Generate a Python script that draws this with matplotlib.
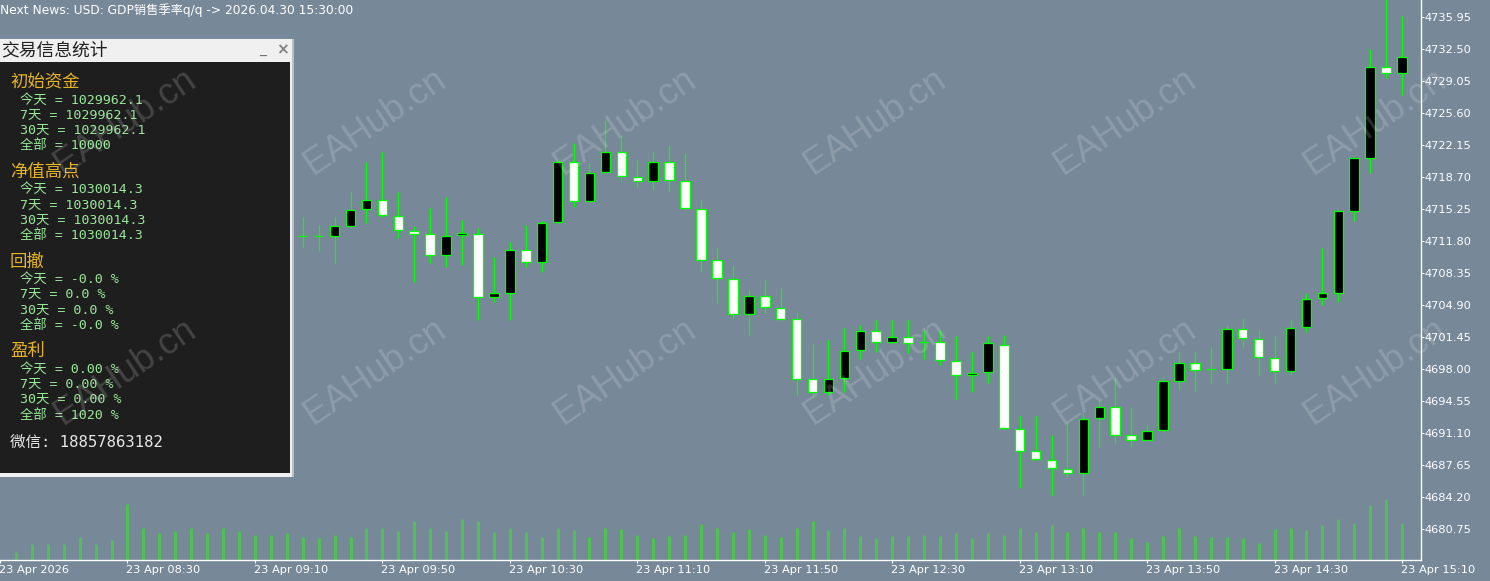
import numpy as np
import matplotlib.pyplot as plt
import matplotlib.transforms as mtransforms
from matplotlib.patches import Rectangle

# Données (M5, 23 Apr 2026)
tick_labels = ['23 Apr 2026', '23 Apr 08:30', '23 Apr 09:10', '23 Apr 09:50', '23 Apr 10:30',
               '23 Apr 11:10', '23 Apr 11:50', '23 Apr 12:30', '23 Apr 13:10', '23 Apr 13:50',
               '23 Apr 14:30', '23 Apr 15:10']
price_ticks = [4680.75, 4684.20, 4687.65, 4691.10, 4694.55, 4698.00, 4701.45, 4704.90, 4708.35,
               4711.80, 4715.25, 4718.70, 4722.15, 4725.60, 4729.05, 4732.50, 4735.95]

opens = [4712.35, 4712.30, 4712.30, 4713.45, 4715.20, 4716.20, 4714.50, 4712.90, 4712.55, 4710.30,
         4712.45, 4712.60, 4705.80, 4706.20, 4710.80, 4709.55, 4713.85, 4720.35, 4716.15, 4719.20,
         4721.35, 4718.70, 4718.25, 4720.35, 4718.30, 4715.25, 4709.75, 4707.70, 4703.90, 4705.85,
         4704.55, 4703.35, 4696.90, 4695.50, 4697.05, 4700.05, 4702.10, 4700.90, 4701.45, 4700.90,
         4700.95, 4698.90, 4697.35, 4697.65, 4700.60, 4691.50, 4689.10, 4688.20, 4687.25, 4686.80,
         4692.75, 4693.95, 4690.85, 4690.35, 4691.40, 4696.70, 4698.60, 4697.95, 4698.00, 4702.30,
         4701.25, 4699.20, 4697.80, 4702.55, 4705.60, 4706.20, 4715.05, 4720.75, 4730.60, 4729.95]
highs = [4714.40, 4713.50, 4714.40, 4717.10, 4720.35, 4721.40, 4717.10, 4713.40, 4715.35, 4716.55,
         4714.05, 4713.20, 4710.10, 4711.70, 4713.50, 4713.90, 4720.55, 4722.35, 4720.20, 4724.85,
         4723.20, 4720.55, 4721.40, 4722.15, 4721.25, 4716.20, 4711.00, 4709.20, 4706.50, 4707.60,
         4706.70, 4704.15, 4700.70, 4701.10, 4702.40, 4702.75, 4703.30, 4703.30, 4703.30, 4702.20,
         4702.20, 4701.55, 4699.85, 4701.50, 4701.65, 4692.95, 4692.95, 4690.90, 4692.30, 4693.20,
         4694.65, 4697.15, 4693.75, 4691.95, 4697.15, 4699.85, 4699.85, 4700.40, 4702.75, 4703.45,
         4702.20, 4701.55, 4703.30, 4706.15, 4711.00, 4715.15, 4720.90, 4732.55, 4738.50, 4736.05]
lows = [4711.05, 4710.65, 4709.40, 4713.35, 4713.70, 4714.40, 4712.10, 4707.40, 4709.40, 4709.00,
        4709.20, 4703.30, 4705.25, 4703.30, 4709.00, 4708.50, 4713.75, 4715.50, 4716.05, 4719.10,
        4718.20, 4717.50, 4717.30, 4717.10, 4715.15, 4708.50, 4705.10, 4703.35, 4701.65, 4704.05,
        4703.30, 4695.10, 4694.85, 4695.20, 4695.55, 4699.05, 4699.85, 4700.75, 4699.70, 4699.05,
        4698.45, 4694.75, 4695.55, 4696.45, 4691.55, 4685.20, 4688.15, 4684.40, 4686.40, 4684.40,
        4689.60, 4690.00, 4689.60, 4690.25, 4691.30, 4695.75, 4695.55, 4696.50, 4696.45, 4700.40,
        4697.35, 4696.50, 4697.35, 4702.00, 4704.90, 4705.25, 4713.90, 4719.10, 4729.35, 4727.55]
closes = [4712.35, 4712.30, 4713.40, 4715.15, 4716.20, 4714.60, 4713.00, 4712.60, 4710.30, 4712.35,
          4712.65, 4705.80, 4706.15, 4710.80, 4709.55, 4713.70, 4720.35, 4716.15, 4719.15, 4721.35,
          4718.80, 4718.25, 4720.35, 4718.35, 4715.30, 4709.80, 4707.80, 4703.90, 4705.85, 4704.65,
          4703.40, 4696.90, 4695.55, 4696.95, 4699.95, 4702.10, 4700.95, 4701.45, 4700.85, 4700.95,
          4698.95, 4697.35, 4697.60, 4700.75, 4691.60, 4689.15, 4688.25, 4687.35, 4686.75, 4692.60,
          4693.95, 4690.90, 4690.35, 4691.30, 4696.65, 4698.60, 4697.90, 4697.95, 4702.30, 4701.30,
          4699.30, 4697.80, 4702.45, 4705.50, 4706.15, 4715.00, 4720.70, 4730.60, 4729.95, 4731.60]
volumes = [83, 160, 160, 157, 233, 160, 200, 560, 317, 267, 293, 317, 267, 323, 290, 250, 250, 267,
           233, 217, 250, 233, 317, 323, 293, 393, 323, 290, 407, 393, 283, 323, 283, 233, 323, 300,
           233, 323, 307, 250, 217, 240, 250, 360, 323, 283,
           307, 250, 233, 323, 393, 300, 323, 243, 217, 240, 240, 250, 240, 267, 217, 267, 250, 323,
           283, 350, 283, 323, 283, 283, 217, 183, 240, 323, 240, 233, 233, 217, 167, 307, 323, 300,
           350, 407, 367, 550, 607, 367]

# Texte du panneau
panel_sections = [
    ('初始资金', ['今天 = 1029962.1', '7天 = 1029962.1', '30天 = 1029962.1', '全部 = 10000']),
    ('净值高点', ['今天 = 1030014.3', '7天 = 1030014.3', '30天 = 1030014.3', '全部 = 1030014.3']),
    ('回撤', ['今天 = -0.0 %', '7天 = 0.0 %', '30天 = 0.0 %', '全部 = -0.0 %']),
    ('盈利', ['今天 = 0.00 %', '7天 = 0.00 %', '30天 = 0.00 %', '全部 = 1020 %']),
]

W, H = 1490, 581
BG = '#778899'
LIME = '#00ff00'
CJK = ['DejaVu Sans', 'Noto Sans CJK SC']
MONO = ['DejaVu Sans Mono', 'Noto Sans CJK SC']

fig = plt.figure(figsize=(W / 100, H / 100), dpi=100, facecolor=BG)
ax = fig.add_axes([0, 21 / H, 1421 / W, 560 / H])
ax.patch.set_visible(False)

# Volumes (axe secondaire derrière les bougies)
vx = np.arange(-7, -7 + len(volumes))
axv = ax.twinx()
axv.vlines(vx, 0, volumes, color='#4fc053', lw=2.2)
axv.set_ylim(0, 5600)
axv.set_yticks([])
for s in axv.spines.values():
    s.set_visible(False)
axv.set_zorder(ax.get_zorder() - 1)

# Bougies
cx = np.arange(11, 11 + len(opens))
o = np.array(opens)
c = np.array(closes)
ax.vlines(cx, lows, highs, color=LIME, lw=0.9, zorder=2)
body_col = np.where(c >= o, 'black', 'white')
ax.bar(cx, np.abs(c - o), bottom=np.minimum(o, c), width=0.6, color=body_col,
       edgecolor=LIME, linewidth=0.9, zorder=3)

ax.set_xlim(-7.625, 81.19)
ax.set_ylim(4677.40, 4737.78)

ax.set_xticks(np.arange(-8, 81, 8))
ax.set_xticklabels(tick_labels, ha='left')
ax.set_yticks(price_ticks)
ax.set_yticklabels([f'{p:.2f}' for p in price_ticks])
ax.yaxis.tick_right()
ax.tick_params(axis='both', colors='white', labelsize=8.2, length=2.2, width=0.8)
ax.tick_params(axis='y', pad=0.6)
ax.tick_params(axis='x', pad=1.5)
shift = mtransforms.ScaledTranslation(-1 / 100, 0, fig.dpi_scale_trans)
for lab in ax.get_xticklabels():
    lab.set_transform(lab.get_transform() + shift)
for side in ['top', 'left']:
    ax.spines[side].set_visible(False)
for side in ['right', 'bottom']:
    ax.spines[side].set_color('white')
    ax.spines[side].set_linewidth(1)

# Ligne d'info en haut
fig.text(0, 1 - 10 / H, 'Next News: USD: GDP销售季率q/q -> 2026.04.30 15:30:00',
         color='white', fontsize=8.8, family=CJK, va='center', ha='left')

# Panneau statistiques
pax = fig.add_axes([0, 1 - 477 / H, 294 / W, 438 / H])
pax.set_xlim(0, 294)
pax.set_ylim(477, 39)
pax.axis('off')
pax.add_patch(Rectangle((0, 39), 294, 438, fc='#f0f0f0', ec='none'))
pax.add_patch(Rectangle((292, 39), 2, 438, fc='#b8bfc6', ec='none'))
pax.add_patch(Rectangle((0, 62), 290, 411, fc='#1e1e1e', ec='none'))
pax.text(1, 50.5, '交易信息统计', color='#202020', fontsize=12.8, family=CJK, va='center')
pax.text(263, 50, '_', color='#707070', fontsize=10, va='center', ha='center')
pax.text(282, 50, '×', color='#808080', fontsize=11, va='center', ha='center', weight='bold')

y = 82
for head, lines in panel_sections:
    pax.text(10, y, head, color='#e6b422', fontsize=12.5, family=CJK, va='center')
    y += 18
    for line in lines:
        pax.text(20, y, line, color='#98e698', fontsize=9.6, family=MONO, va='center')
        y += 15.3
    y += 10.5
pax.text(10, 442, '微信: 18857863182', color='#e8e8e8', fontsize=11.2, family=MONO, va='center')

# Filigrane
for wy in [122, 372]:
    for wx in [125, 375, 625, 875, 1125, 1375]:
        fig.text(wx / W, 1 - wy / H, 'EAHub.cn', color='white', alpha=0.17, fontsize=26,
                 family='Liberation Sans', rotation=34, ha='center', va='center',
                 rotation_mode='anchor', zorder=20)

plt.savefig('out.png', dpi=100, facecolor=fig.get_facecolor())
